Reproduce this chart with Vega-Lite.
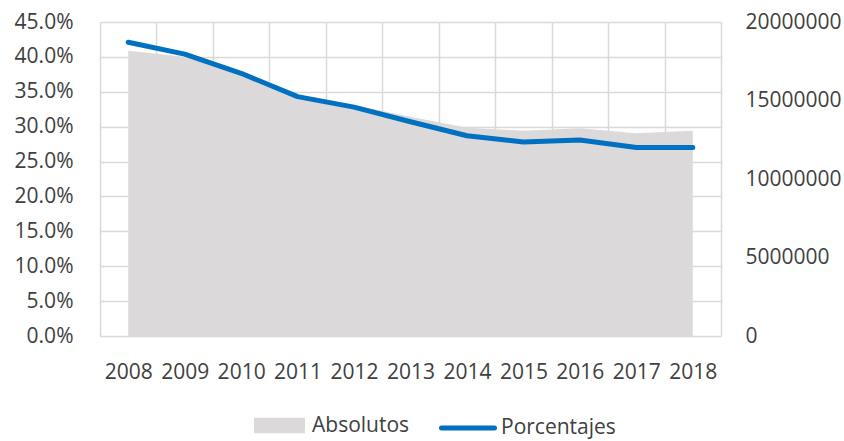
{
  "$schema": "https://vega.github.io/schema/vega-lite/v6.json",
  "width": 621,
  "height": 314,
  "autosize": "none",
  "padding": {"left": 100, "top": 22, "right": 123, "bottom": 105},
  "background": "white",
  "config": {
    "view": {"stroke": null},
    "font": "Open Sans",
    "axis": {"labelFont": "Open Sans", "labelFontSize": 21, "labelColor": "#404040", "domain": false, "ticks": false, "title": null, "gridColor": "#d9d9d9", "gridWidth": 1.5},
    "legend": {"labelFont": "Open Sans", "labelFontSize": 21, "labelColor": "#404040", "padding": 0, "title": null}
  },
  "data": {
    "values": [
      {"anio": "2008", "absolutos": 18170000, "porcentaje": 0.421},
      {"anio": "2009", "absolutos": 17790000, "porcentaje": 0.404},
      {"anio": "2010", "absolutos": 16650000, "porcentaje": 0.3765},
      {"anio": "2011", "absolutos": 15250000, "porcentaje": 0.343},
      {"anio": "2012", "absolutos": 14700000, "porcentaje": 0.328},
      {"anio": "2013", "absolutos": 13970000, "porcentaje": 0.307},
      {"anio": "2014", "absolutos": 13270000, "porcentaje": 0.287},
      {"anio": "2015", "absolutos": 13080000, "porcentaje": 0.278},
      {"anio": "2016", "absolutos": 13230000, "porcentaje": 0.281},
      {"anio": "2017", "absolutos": 12910000, "porcentaje": 0.270},
      {"anio": "2018", "absolutos": 13080000, "porcentaje": 0.270}
    ]
  },
  "encoding": {
    "x": {
      "field": "anio",
      "type": "ordinal",
      "bandPosition": 0.5,
      "scale": {"type": "band", "paddingInner": 0, "paddingOuter": 0},
      "axis": {"labelAngle": 0, "grid": true, "tickBand": "extent", "labelPadding": 25, "labelBaseline": "top"}
    }
  },
  "layer": [
    {
      "mark": {"type": "area", "interpolate": "linear"},
      "encoding": {
        "y": {
          "field": "absolutos",
          "type": "quantitative",
          "scale": {"domain": [0, 20000000], "nice": false, "zero": true},
          "axis": {"orient": "right", "values": [0, 5000000, 10000000, 15000000, 20000000], "format": "d", "grid": false, "labelPadding": 24, "labelAlign": "left"}
        },
        "fill": {
          "datum": "Absolutos",
          "scale": {"range": ["#dbd9da"]},
          "legend": {"orient": "none", "legendX": 154, "legendY": 378, "symbolType": "M-1,-0.3H1V0.3H-1Z", "symbolSize": 2601, "symbolStrokeWidth": 0, "labelOffset": 7}
        }
      }
    },
    {
      "mark": {"type": "line", "strokeWidth": 5, "strokeCap": "round", "strokeJoin": "round", "interpolate": "linear"},
      "encoding": {
        "y": {
          "field": "porcentaje",
          "type": "quantitative",
          "scale": {"domain": [0, 0.45], "nice": false},
          "axis": {"orient": "left", "values": [0, 0.05, 0.1, 0.15, 0.2, 0.25, 0.3, 0.35, 0.4, 0.45], "format": ".1%", "grid": true, "labelPadding": 27}
        },
        "stroke": {
          "datum": "Porcentajes",
          "scale": {"range": ["#0070c0"]},
          "legend": {"orient": "none", "legendX": 339, "legendY": 377, "symbolType": "stroke", "symbolSize": 2809, "symbolStrokeWidth": 5, "labelOffset": 4, "symbolStrokeColor": "#0070c0", "encode": {"symbols": {"update": {"strokeCap": {"value": "round"}}}}}
        }
      }
    }
  ],
  "resolve": {"scale": {"y": "independent"}}
}
